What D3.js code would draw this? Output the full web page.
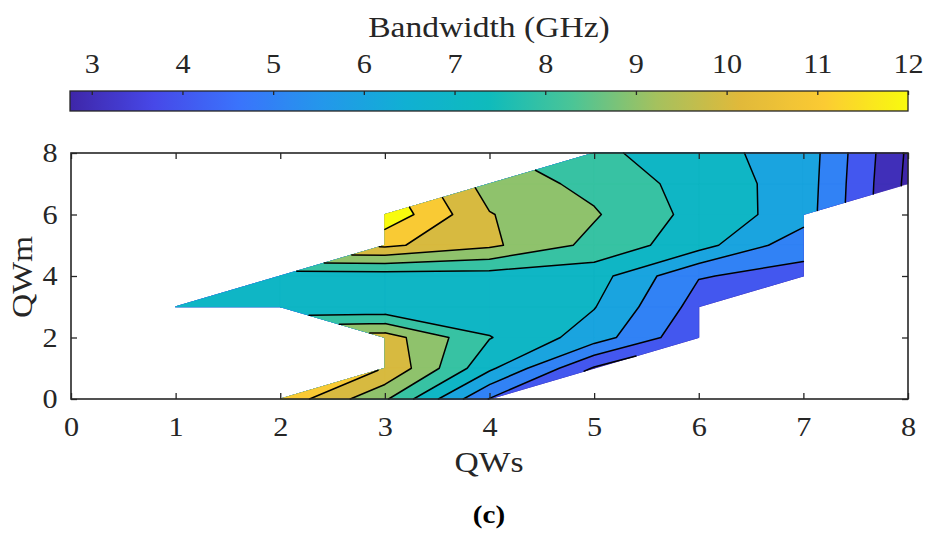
<!DOCTYPE html>
<html>
<head>
<meta charset="utf-8">
<script src="https://cdn.jsdelivr.net/npm/d3@7"></script>
<style>
  body { margin: 0; background: #fff; }
  text { font-family: "Liberation Serif", "Times New Roman", serif; fill: #262626; }
</style>
</head>
<body>
<svg id="chart" width="928" height="536"></svg>
<script>
// grid coordinates
const qws = [0, 1, 2, 3, 4, 5, 6, 7, 8];
const qwm = [0, 1, 2, 3, 4, 5, 6, 7, 8];

// bandwidth (GHz), one row per QWm value, columns follow qws; null = not simulated
const bwQWm0 = [null, null, 11.72, 9.15, 4.95, null, null, null, null];
const bwQWm1 = [null, null, null, 10.95, 7.2, 3.9, null, null, null];
const bwQWm2 = [null, null, null, 10.5, 8.05, 6.5, 4.15, null, null];
const bwQWm3 = [null, 7.5, 7.05, 7.2, 7.3, 7.05, 4.6, null, null];
const bwQWm4 = [null, null, 7.4, 7.48, 7.55, 7.43, 5.05, 4.73, null];
const bwQWm5 = [null, null, null, 11.2, 10.2, 8.7, 7.4, 5.3, null];
const bwQWm6 = [null, null, null, 12.75, 10.05, 9.1, 7.65, 6.5, null];
const bwQWm7 = [null, null, null, null, 9.57, 8.73, 7.57, 6.55, 2.76];
const bwQWm8 = [null, null, null, null, null, 8.27, 7.31, 6.6, 2.85];

// contour levels and ticks
const levels = [3, 4, 5, 6, 7, 8, 9, 10, 11, 12];
const cbTicks = [3, 4, 5, 6, 7, 8, 9, 10, 11, 12];
const xTicks = [0, 1, 2, 3, 4, 5, 6, 7, 8];
const yTicks = [0, 2, 4, 6, 8];

const grid = [bwQWm0, bwQWm1, bwQWm2, bwQWm3, bwQWm4, bwQWm5, bwQWm6, bwQWm7, bwQWm8];
const cmin = 2.76, cmax = 12;

// parula-like colormap
const parulaStops = [0, 0.1, 0.2, 0.3, 0.4, 0.5, 0.6, 0.7, 0.8, 0.9, 1];
const parulaCols = ["#3e26a8", "#4748e8", "#3a73fc", "#2497eb", "#10b0d3", "#0fbbbc",
                    "#4bc596", "#a5c15e", "#e1b93a", "#fbcb33", "#f9fb0e"];
const parula = d3.scaleLinear().domain(parulaStops).range(parulaCols)
    .interpolate(d3.interpolateRgb).clamp(true);
const color = v => parula((v - cmin) / (cmax - cmin));

const svg = d3.select("#chart");
const fs = 27, sx = 1.12;   // text is a bit wide in the original

const x = d3.scaleLinear().domain([0, 8]).range([71, 908]);
const y = d3.scaleLinear().domain([0, 8]).range([399, 153]);

// cells as polygons (quads, or triangles when one corner is missing)
const cells = [];
for (let j = 0; j < qwm.length - 1; j++) {
    for (let i = 0; i < qws.length - 1; i++) {
        const corners = [[i, j], [i + 1, j], [i + 1, j + 1], [i, j + 1]]
            .filter(([a, b]) => grid[b][a] != null)
            .map(([a, b]) => ({x: qws[a], y: qwm[b], v: grid[b][a]}));
        if (corners.length >= 3) cells.push(corners);
    }
}

// region of a cell where value >= L, plus the isoline chords
function clipCell(poly, L) {
    const out = [];
    for (let k = 0; k < poly.length; k++) {
        const a = poly[k], b = poly[(k + 1) % poly.length];
        if (a.v >= L) out.push({x: a.x, y: a.y, cross: false});
        if ((a.v >= L) !== (b.v >= L)) {
            const t = (L - a.v) / (b.v - a.v);
            out.push({x: a.x + t * (b.x - a.x), y: a.y + t * (b.y - a.y), cross: true});
        }
    }
    const segs = [];
    for (let k = 0; k < out.length; k++) {
        const a = out[k], b = out[(k + 1) % out.length];
        if (a.cross && b.cross && out.length > 2) segs.push([a, b]);
    }
    return {out, segs};
}

const plot = svg.append("g");
const fillLevels = [-Infinity].concat(levels);
const lineData = [];

fillLevels.forEach(L => {
    let d = "";
    cells.forEach(c => {
        const {out, segs} = clipCell(c, L);
        if (out.length >= 3) {
            d += "M" + out.map(p => x(p.x) + "," + y(p.y)).join("L") + "Z";
        }
        if (isFinite(L)) segs.forEach(s => lineData.push(s));
    });
    const fill = color(isFinite(L) ? L : cmin);
    plot.append("path")
        .attr("d", d)
        .attr("fill", fill)
        .attr("stroke", fill)
        .attr("stroke-width", 0.6)
        .attr("stroke-linejoin", "round");
});

// contour lines
plot.append("path")
    .attr("d", lineData.map(s => `M${x(s[0].x)},${y(s[0].y)}L${x(s[1].x)},${y(s[1].y)}`).join(""))
    .attr("fill", "none")
    .attr("stroke", "#000")
    .attr("stroke-width", 1.5)
    .attr("stroke-linecap", "round");

// axes box
const axisColor = "#262626";
function styleAxis(g) {
    g.select(".domain").remove();
    g.selectAll(".tick line").attr("stroke", axisColor).attr("stroke-width", 1.3);
    g.selectAll(".tick text").style("font-size", fs + "px").attr("fill", axisColor)
        .attr("transform", `scale(${sx},1)`);
}
svg.append("g").attr("transform", "translate(0,399)")
    .call(d3.axisBottom(x).tickValues(xTicks).tickSize(-6).tickPadding(18).tickFormat(d3.format("d")))
    .call(styleAxis);
svg.append("g").attr("transform", "translate(0,153)")
    .call(d3.axisTop(x).tickValues(xTicks).tickSize(-6).tickFormat(""))
    .call(styleAxis);
svg.append("g").attr("transform", "translate(71,0)")
    .call(d3.axisLeft(y).tickValues(yTicks).tickSize(-6).tickPadding(12).tickFormat(d3.format("d")))
    .call(styleAxis);
svg.append("g").attr("transform", "translate(908,0)")
    .call(d3.axisRight(y).tickValues(yTicks).tickSize(-6).tickFormat(""))
    .call(styleAxis);
svg.append("rect")
    .attr("x", 71).attr("y", 153).attr("width", 908 - 71).attr("height", 399 - 153)
    .attr("fill", "none").attr("stroke", axisColor).attr("stroke-width", 1.6);

// axis labels
function label(tx, ty, rot, txt, size, bold) {
    const t = svg.append("text")
        .attr("transform", `translate(${tx},${ty}) rotate(${rot}) scale(${sx},1)`)
        .attr("text-anchor", "middle")
        .style("font-size", size + "px")
        .text(txt);
    if (bold) t.style("font-weight", "bold").style("fill", "#000");
    return t;
}
label(489, 472, 0, "QWs", 30, false);
label(32, 277, -90, "QWm", 30, false);
label(489, 523, 0, "(c)", 26, true);

// colorbar
const cb = d3.scaleLinear().domain([cmin, cmax]).range([70, 908]);
const grad = svg.append("defs").append("linearGradient").attr("id", "cbgrad");
d3.range(0, 1.0001, 0.02).forEach(t => {
    grad.append("stop").attr("offset", t).attr("stop-color", parula(t));
});
svg.append("rect").attr("x", 70).attr("y", 91).attr("width", 838).attr("height", 20)
    .attr("fill", "url(#cbgrad)").attr("stroke", axisColor).attr("stroke-width", 1.3);
svg.append("g").attr("transform", "translate(0,91)")
    .call(d3.axisTop(cb).tickValues(cbTicks).tickSize(-4).tickPadding(18).tickFormat(d3.format("d")))
    .call(styleAxis);
label(489, 37, 0, "Bandwidth (GHz)", 30, false);
</script>
</body>
</html>
